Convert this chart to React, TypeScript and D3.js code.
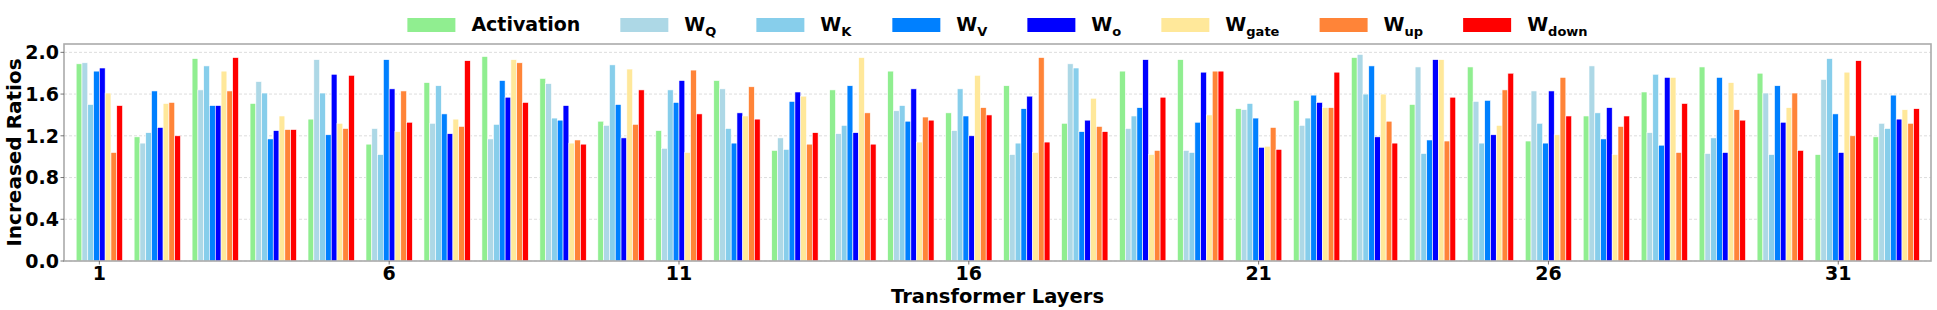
import * as d3 from "d3";
import { useEffect, useRef } from "react";

const layers = d3.range(1, 33);

const seriesNames = ["Activation", "W_Q", "W_K", "W_V", "W_o", "W_gate", "W_up", "W_down"];
const seriesColors = ["#90EE90", "#ADD8E6", "#87CEEB", "#0080FF", "#0000FF", "#FFE89A", "#FF8438", "#FF0000"];

const activation = [1.89, 1.19, 1.94, 1.51, 1.36, 1.12, 1.71, 1.96, 1.75, 1.34, 1.25, 1.73, 1.06, 1.64, 1.82, 1.42, 1.68, 1.32, 1.82, 1.93, 1.46, 1.54, 1.95, 1.5, 1.86, 1.15, 1.39, 1.62, 1.86, 1.8, 1.02, 1.19];
const wQ = [1.9, 1.13, 1.64, 1.72, 1.93, 1.27, 1.32, 1.17, 1.7, 1.3, 1.08, 1.65, 1.18, 1.22, 1.44, 1.25, 1.02, 1.89, 1.27, 1.06, 1.45, 1.3, 1.98, 1.86, 1.53, 1.63, 1.87, 1.23, 1.03, 1.61, 1.74, 1.32];
const wK = [1.5, 1.23, 1.87, 1.61, 1.61, 1.02, 1.68, 1.31, 1.37, 1.88, 1.64, 1.27, 1.07, 1.3, 1.49, 1.65, 1.13, 1.85, 1.39, 1.04, 1.51, 1.37, 1.6, 1.03, 1.13, 1.32, 1.42, 1.79, 1.18, 1.02, 1.94, 1.27];
const wV = [1.82, 1.63, 1.49, 1.17, 1.21, 1.93, 1.41, 1.73, 1.35, 1.5, 1.52, 1.13, 1.53, 1.68, 1.34, 1.39, 1.46, 1.24, 1.47, 1.33, 1.37, 1.59, 1.87, 1.16, 1.54, 1.13, 1.17, 1.11, 1.76, 1.68, 1.41, 1.59];
const wO = [1.85, 1.28, 1.49, 1.25, 1.79, 1.65, 1.22, 1.57, 1.49, 1.18, 1.73, 1.42, 1.62, 1.23, 1.65, 1.2, 1.58, 1.35, 1.93, 1.81, 1.09, 1.52, 1.19, 1.93, 1.21, 1.63, 1.47, 1.76, 1.04, 1.33, 1.04, 1.36];
const wGate = [1.61, 1.51, 1.82, 1.39, 1.32, 1.24, 1.36, 1.93, 1.13, 1.84, 1.04, 1.39, 1.58, 1.95, 1.14, 1.78, 1.04, 1.56, 1.02, 1.4, 1.1, 1.47, 1.6, 1.93, 1.3, 1.21, 1.02, 1.76, 1.71, 1.47, 1.81, 1.45];
const wUp = [1.04, 1.52, 1.63, 1.26, 1.27, 1.63, 1.29, 1.9, 1.16, 1.31, 1.83, 1.67, 1.12, 1.42, 1.38, 1.47, 1.95, 1.29, 1.06, 1.82, 1.28, 1.47, 1.34, 1.15, 1.64, 1.76, 1.29, 1.04, 1.45, 1.61, 1.2, 1.32];
const wDown = [1.49, 1.2, 1.95, 1.26, 1.78, 1.33, 1.92, 1.52, 1.12, 1.64, 1.41, 1.36, 1.23, 1.12, 1.35, 1.4, 1.14, 1.24, 1.57, 1.82, 1.07, 1.81, 1.13, 1.57, 1.8, 1.39, 1.39, 1.51, 1.35, 1.06, 1.92, 1.46];

const yTicks = [0, 0.4, 0.8, 1.2, 1.6, 2.0];
const xTickLayers = [1, 6, 11, 16, 21, 26, 31];

const allSeries = [activation, wQ, wK, wV, wO, wGate, wUp, wDown];

const Chart = () => {
  const chartRef = useRef<HTMLDivElement>(null);

  useEffect(() => {
    const width = 1937;
    const height = 310;
    const left = 64;
    const right = 1931;
    const top = 44;
    const bottom = 261;
    const font = "'DejaVu Sans', sans-serif";
    const spineColor = "#ababab";
    const groupWidth = 0.8;
    const nSeries = allSeries.length;

    d3.select(chartRef.current).select("svg").remove();

    const svg = d3
      .select(chartRef.current)
      .append("svg")
      .attr("width", width)
      .attr("height", height)
      .style("position", "absolute")
      .style("left", "0px")
      .style("top", "0px")
      .style("font-family", font);

    const x = d3.scaleLinear().domain([-0.61, 31.6]).range([left, right]);
    const y = d3.scaleLinear().domain([0, 2.08]).range([bottom, top]);

    // grid
    svg
      .append("g")
      .selectAll("line")
      .data(yTicks)
      .join("line")
      .attr("x1", left)
      .attr("x2", right)
      .attr("y1", (d) => y(d))
      .attr("y2", (d) => y(d))
      .attr("stroke", "#d4d4d4")
      .attr("stroke-width", 0.8)
      .attr("stroke-dasharray", "3,2");

    // bars
    const barW = groupWidth / nSeries;
    const plots = svg
      .append("g")
      .selectAll("g")
      .data(allSeries)
      .join("g")
      .attr("fill", (d, i) => seriesColors[i]);

    plots.each(function (values, si) {
      d3.select(this)
        .selectAll("rect")
        .data(values)
        .join("rect")
        .attr("x", (d, i) => x(i - groupWidth / 2 + si * barW))
        .attr("width", x(barW) - x(0))
        .attr("y", (d) => y(d))
        .attr("height", (d) => y(0) - y(d))
        .attr("stroke", "white")
        .attr("stroke-width", 0.6);
    });

    // spines
    svg
      .append("rect")
      .attr("x", left)
      .attr("y", top)
      .attr("width", right - left)
      .attr("height", bottom - top)
      .attr("fill", "none")
      .attr("stroke", spineColor)
      .attr("stroke-width", 1.6);

    // y axis ticks
    const yAxis = svg.append("g");
    yAxis
      .selectAll("line")
      .data(yTicks)
      .join("line")
      .attr("x1", left - 3.5)
      .attr("x2", left)
      .attr("y1", (d) => y(d))
      .attr("y2", (d) => y(d))
      .attr("stroke", "#555")
      .attr("stroke-width", 0.8);
    yAxis
      .selectAll("text")
      .data(yTicks)
      .join("text")
      .attr("x", left - 5)
      .attr("y", (d) => y(d))
      .attr("dy", "0.36em")
      .attr("text-anchor", "end")
      .attr("font-size", 19)
      .attr("font-weight", "bold")
      .text((d) => d3.format(".1f")(d));

    // x axis ticks
    const xAxis = svg.append("g");
    xAxis
      .selectAll("line")
      .data(xTickLayers)
      .join("line")
      .attr("x1", (d) => x(d - 1))
      .attr("x2", (d) => x(d - 1))
      .attr("y1", bottom)
      .attr("y2", bottom + 3.5)
      .attr("stroke", "#555")
      .attr("stroke-width", 0.8);
    xAxis
      .selectAll("text")
      .data(xTickLayers)
      .join("text")
      .attr("x", (d) => x(d - 1))
      .attr("y", bottom + 19)
      .attr("text-anchor", "middle")
      .attr("font-size", 19)
      .attr("font-weight", "bold")
      .text((d) => String(d));

    // axis titles
    svg
      .append("text")
      .attr("transform", `translate(21, ${(top + bottom) / 2}) rotate(-90)`)
      .attr("text-anchor", "middle")
      .attr("font-size", 20)
      .attr("font-weight", "bold")
      .text("Increased Ratios");

    svg
      .append("text")
      .attr("x", (left + right) / 2)
      .attr("y", 303)
      .attr("text-anchor", "middle")
      .attr("font-size", 19.5)
      .attr("font-weight", "bold")
      .text("Transformer Layers");

    // legend
    const legend = svg.append("g");
    const patchW = 48;
    const patchH = 14;
    const textGap = 16;
    const colGap = 40;
    const items = seriesNames.map((name, i) => {
      const g = legend.append("g");
      g.append("rect")
        .attr("x", 0)
        .attr("y", 18)
        .attr("width", patchW)
        .attr("height", patchH)
        .attr("fill", seriesColors[i]);
      const t = g
        .append("text")
        .attr("x", patchW + textGap)
        .attr("y", 31)
        .attr("font-size", 19)
        .attr("font-weight", "bold");
      const [main, sub] = name.split("_");
      t.append("tspan").text(main);
      if (sub) {
        t.append("tspan")
          .attr("font-size", 13)
          .attr("dy", 5)
          .text(sub);
      }
      return { g, w: patchW + textGap + (t.node() as SVGTextElement).getBBox().width };
    });
    const total = d3.sum(items, (d) => d.w) + colGap * (items.length - 1);
    let cursor = (left + right) / 2 - total / 2;
    items.forEach((it) => {
      it.g.attr("transform", `translate(${cursor}, 0)`);
      cursor += it.w + colGap;
    });
  }, []);

  return <div ref={chartRef}></div>;
};

export default function App() {
  return <Chart />;
}
